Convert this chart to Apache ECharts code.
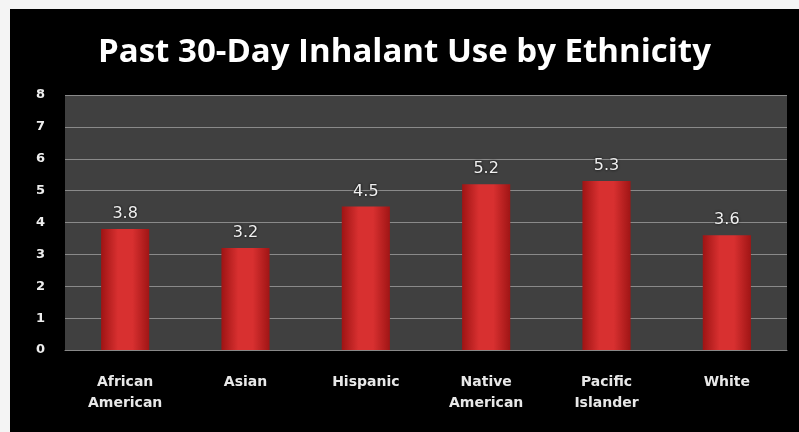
<!DOCTYPE html>
<html>
<head>
<meta charset="utf-8">
<script src="https://cdn.jsdelivr.net/npm/echarts@6/dist/echarts.min.js"></script>
<style>
  html, body { margin: 0; padding: 0; background: #f4f4f4; }
  #chart { position: absolute; left: 10px; top: 9px; width: 789px; height: 423px; background: #000; }
</style>
</head>
<body>
<div id="chart"></div>
<script>
const categories = ['African\nAmerican', 'Asian', 'Hispanic', 'Native\nAmerican', 'Pacific\nIslander', 'White'];
const values = [3.8, 3.2, 4.5, 5.2, 5.3, 3.6];
const yTicks = [0, 1, 2, 3, 4, 5, 6, 7, 8];

const chart = echarts.init(document.getElementById('chart'));

// red bar with darker edges, like the old 3D office look
const barColor = new echarts.graphic.LinearGradient(0, 0, 1, 0, [
    { offset: 0, color: '#9e1414' },
    { offset: 0.35, color: '#d83030' },
    { offset: 0.65, color: '#d83030' },
    { offset: 1, color: '#a01515' }
]);

const option = {
    backgroundColor: '#000',
    animation: false,
    title: {
        text: 'Past 30-Day Inhalant Use by Ethnicity',
        left: 'center',
        top: 22,
        textStyle: { color: '#fff', fontFamily: 'Open Sans', fontWeight: 'bold', fontSize: 33 }
    },
    grid: { left: 55, right: 12, top: 86, bottom: 82, backgroundColor: '#404040', show: true, borderWidth: 0 },
    xAxis: {
        type: 'category',
        data: categories,
        axisLine: { lineStyle: { color: '#888', width: 1 } },
        axisTick: { lineStyle: { color: '#888' }, length: 5 },
        axisLabel: {
            color: '#e8e8e8', fontFamily: 'DejaVu Sans', fontWeight: 'bold', fontSize: 14,
            lineHeight: 21, margin: 22
        }
    },
    yAxis: {
        type: 'value',
        min: yTicks[0],
        max: yTicks[yTicks.length - 1],
        interval: 1,
        axisLine: { show: false },
        axisTick: { show: false },
        axisLabel: { color: '#eee', fontFamily: 'DejaVu Sans', fontWeight: 'bold', fontSize: 13, margin: 20 },
        splitLine: { lineStyle: { color: '#8a8a8a', width: 1 } }
    },
    series: [{
        type: 'bar',
        data: values,
        barCategoryGap: '60%',
        itemStyle: { color: barColor },
        label: {
            show: true,
            position: 'top',
            distance: 7,
            color: '#f0f0f0',
            fontFamily: 'DejaVu Sans',
            fontSize: 16,
            textShadowColor: '#000',
            textShadowBlur: 3,
            formatter: p => p.value.toFixed(1)
        }
    }]
};

chart.setOption(option);
</script>
</body>
</html>
